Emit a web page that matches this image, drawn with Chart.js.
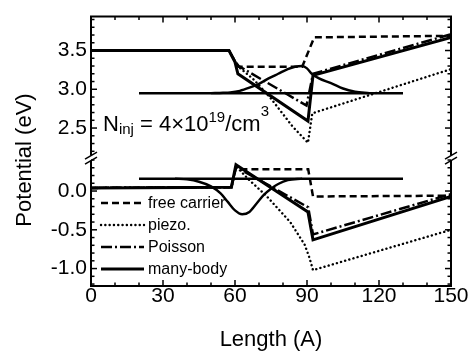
<!DOCTYPE html>
<html>
<head>
<meta charset="utf-8">
<script src="https://cdn.jsdelivr.net/npm/chart.js@4.4.1/dist/chart.umd.min.js"></script>
<style>
  html, body { margin: 0; padding: 0; background: #fff; }
  canvas { display: block; }
</style>
</head>
<body>
<canvas id="c" width="474" height="354"></canvas>
<script>
// ── DATA ────────────────────────────────────────────────────────────────────
// The upper (conduction band) panel is plotted shifted down by OFFSET so both
// panels share one linear axis; BREAK is where the axis is cut (plotted units).
const OFFSET = 1.6875;
const BREAK  = 0.425;

const xTicks      = [0, 30, 60, 90, 120, 150];
const yTicksLower = [-1.0, -0.5, 0.0];
const yTicksUpper = [2.5, 3.0, 3.5];

const seriesLabels = ['free carrier', 'piezo.', 'Poisson', 'many-body'];

// [length (A), potential (eV)]
const freeCarrierUpper = [[0, 3.5], [57.5, 3.5], [60, 3.36], [61.5, 3.29], [88, 3.29], [93, 3.67], [150, 3.69]];
const freeCarrierLower = [[0, 0.04], [58.5, 0.05], [60.4, 0.30], [62.5, 0.28], [90.5, 0.28], [92.5, -0.07], [150, -0.06]];

const piezoUpper = [[0, 3.5], [57.5, 3.5], [60, 3.36], [61.5, 3.29], [68, 3.12], [75, 2.88], [84, 2.52], [90.4, 2.31], [92.2, 2.69], [150, 3.26]];
const piezoLower = [[0, 0.04], [58.5, 0.05], [60.4, 0.32], [66, 0.14], [73, -0.06], [83, -0.40], [89, -0.69], [91, -0.86], [92.5, -1.02], [150, -0.50]];

const poissonUpper = [[0, 3.5], [57.5, 3.5], [60, 3.36], [61.5, 3.30], [89.8, 2.79], [92.5, 3.20], [150, 3.71]];
const poissonLower = [[0, 0.04], [58.5, 0.05], [60.4, 0.31], [90.5, -0.21], [92.5, -0.56], [150, -0.04]];

const manyBodyUpper = [[0, 3.5], [57.5, 3.5], [60, 3.35], [61.2, 3.20], [90.4, 2.59], [92.5, 3.18], [150, 3.67]];
const manyBodyLower = [[0, 0.04], [58.5, 0.05], [60.4, 0.34], [90.4, -0.27], [92.5, -0.63], [150, -0.07]];

// confined levels and their wavefunctions
const levelUpper = [[20, 2.95], [130, 2.95]];
const levelLower = [[20, 0.16], [130, 0.16]];
const waveUpper = [[50, 2.95], [55, 2.955], [58, 2.96], [62, 2.98], [66, 3.02], [70, 3.07], [74, 3.14], [78, 3.20],
                   [82, 3.26], [85, 3.29], [88, 3.30], [90, 3.27], [92, 3.20], [95, 3.14], [100, 3.08], [105, 3.01],
                   [110, 2.97], [116, 2.95]];
const waveLower = [[35, 0.16], [40, 0.15], [45, 0.12], [50, 0.06], [54, -0.03], [57, -0.14], [60, -0.25], [63, -0.30],
                   [66, -0.27], [69, -0.16], [72, -0.05], [75, 0.03], [78, 0.09], [82, 0.14], [88, 0.16]];

// ── HELPERS ─────────────────────────────────────────────────────────────────

const FONT = "'Liberation Sans', Arial, Helvetica, sans-serif";

const upper = pts => pts.map(([x, y]) => ({ x, y: y - OFFSET }));
const lower = pts => pts.map(([x, y]) => ({ x, y }));
// both panels in one dataset, with a gap between them
const joined = (u, l) => [...upper(u), { x: 150, y: null }, ...lower(l)];

const line = (label, data, extra) => ({
  label, data,
  borderColor: '#000',
  borderWidth: 2.5,
  pointRadius: 0,
  fill: false,
  ...extra,
});

const datasets = [
  line(seriesLabels[0], joined(freeCarrierUpper, freeCarrierLower), { borderDash: [7, 4] }),
  line(seriesLabels[1], joined(piezoUpper, piezoLower), { borderDash: [0.1, 4.2], borderCapStyle: 'round', borderWidth: 2.4 }),
  line(seriesLabels[2], joined(poissonUpper, poissonLower), { borderDash: [11, 3, 2, 3] }),
  line(seriesLabels[3], joined(manyBodyUpper, manyBodyLower), { borderWidth: 3 }),
  line('', joined(levelUpper, levelLower), {}),
  line('', upper(waveUpper), { borderWidth: 2.4, cubicInterpolationMode: 'monotone' }),
  line('', lower(waveLower), { borderWidth: 2.4, cubicInterpolationMode: 'monotone' }),
];

// ── DECORATIONS: inward ticks, broken frame, legend, labels ─────────────────

const decorations = {
  id: 'decorations',
  afterDraw(chart) {
    const { ctx, chartArea: a, scales: { x, y } } = chart;
    const yb = y.getPixelForValue(BREAK);
    ctx.save();
    ctx.strokeStyle = '#000';
    ctx.fillStyle = '#000';
    ctx.setLineDash([]);
    ctx.lineCap = 'butt';

    // frame, cut at the break
    ctx.lineWidth = 2;
    ctx.beginPath();
    ctx.moveTo(a.left, yb - 2.5); ctx.lineTo(a.left, a.top); ctx.lineTo(a.right, a.top); ctx.lineTo(a.right, yb - 2.5);
    ctx.moveTo(a.left, yb + 2.5); ctx.lineTo(a.left, a.bottom); ctx.lineTo(a.right, a.bottom); ctx.lineTo(a.right, yb + 2.5);
    ctx.stroke();

    // break marks
    ctx.lineWidth = 1.5;
    [a.left, a.right].forEach(px => {
      [-2.5, 2.5].forEach(d => {
        ctx.beginPath();
        ctx.moveTo(px - 6, yb + d + 3.5);
        ctx.lineTo(px + 6, yb + d - 3.5);
        ctx.stroke();
      });
    });

    // inward ticks on all four sides
    const tick = (x1, y1, x2, y2) => { ctx.beginPath(); ctx.moveTo(x1, y1); ctx.lineTo(x2, y2); ctx.stroke(); };
    for (let v = 0; v <= 150; v += 10) {
      const px = x.getPixelForValue(v);
      const len = v % 30 === 0 ? 6 : 3.5;
      tick(px, a.bottom, px, a.bottom - len);
      tick(px, a.top, px, a.top + len);
    }
    const yMinor = [];
    for (let k = -12; k <= 4; k++) yMinor.push(k / 10);
    for (let k = 22; k <= 39; k++) yMinor.push(k / 10 - OFFSET);
    yMinor.forEach(v => {
      const py = y.getPixelForValue(v);
      const real = v > BREAK ? v + OFFSET : v;
      const major = Math.abs(real * 2 - Math.round(real * 2)) < 1e-6;
      const len = major ? 6 : 3.5;
      tick(a.left, py, a.left + len, py);
      tick(a.right, py, a.right - len, py);
    });

    // legend (lower left, inside the plot)
    const rowY = [203, 225, 247, 269];
    ctx.font = `16px ${FONT}`;
    ctx.textBaseline = 'middle';
    ctx.textAlign = 'left';
    for (let i = 0; i < 4; i++) {
      const ds = chart.data.datasets[i];
      ctx.lineWidth = ds.borderWidth;
      ctx.lineCap = ds.borderCapStyle || 'butt';
      ctx.setLineDash(ds.borderDash || []);
      tick(101, rowY[i], 144, rowY[i]);
      ctx.fillText(ds.label, 148, rowY[i] + 1);
    }
    ctx.setLineDash([]);

    // N_inj annotation
    ctx.textBaseline = 'alphabetic';
    let cx = x.getPixelForValue(5);
    const base = y.getPixelForValue(2.465 - OFFSET);
    const parts = [
      ['N', 22, 0], ['inj', 15, 3], [' = 4\u00D710', 22, 0], ['19', 15, -9], ['/cm', 22, 0], ['3', 15, -15],
    ];
    parts.forEach(([t, size, dy]) => {
      ctx.font = `${size}px ${FONT}`;
      ctx.fillText(t, cx, base + dy);
      cx += ctx.measureText(t).width;
    });

    // y axis title
    ctx.font = `22px ${FONT}`;
    ctx.textAlign = 'center';
    ctx.textBaseline = 'middle';
    ctx.translate(25, 160);
    ctx.rotate(-Math.PI / 2);
    ctx.fillText('Potential (eV)', 0, 0);
    ctx.restore();
  },
};

// ── CHART ───────────────────────────────────────────────────────────────────

Chart.defaults.font.family = FONT;
Chart.defaults.color = '#000';

new Chart(document.getElementById('c'), {
  type: 'line',
  data: { datasets },
  options: {
    responsive: false,
    animation: false,
    layout: { padding: { top: 8, right: 23, left: 0, bottom: 0 } },
    plugins: { legend: { display: false }, tooltip: { enabled: false } },
    scales: {
      x: {
        type: 'linear',
        min: 0, max: 150,
        afterBuildTicks: s => { s.ticks = xTicks.map(value => ({ value })); },
        afterFit: s => { s.height = 68; },
        ticks: { font: { size: 21 }, padding: -2, maxRotation: 0, autoSkip: false },
        grid: { display: false, drawTicks: false },
        border: { display: false },
        title: { display: true, text: 'Length (A)', font: { size: 22 }, padding: { top: 0, bottom: 1 } },
      },
      y: {
        type: 'linear',
        min: -1.225, max: 2.25,
        afterBuildTicks: s => {
          s.ticks = [...yTicksLower, ...yTicksUpper.map(v => v - OFFSET)].map(value => ({ value }));
        },
        afterFit: s => { s.width = 91; },
        ticks: {
          font: { size: 21 },
          padding: 4,
          callback: v => (v > BREAK ? v + OFFSET : v).toFixed(1),
        },
        grid: { display: false, drawTicks: false },
        border: { display: false },
      },
    },
  },
  plugins: [decorations],
});
</script>
</body>
</html>
